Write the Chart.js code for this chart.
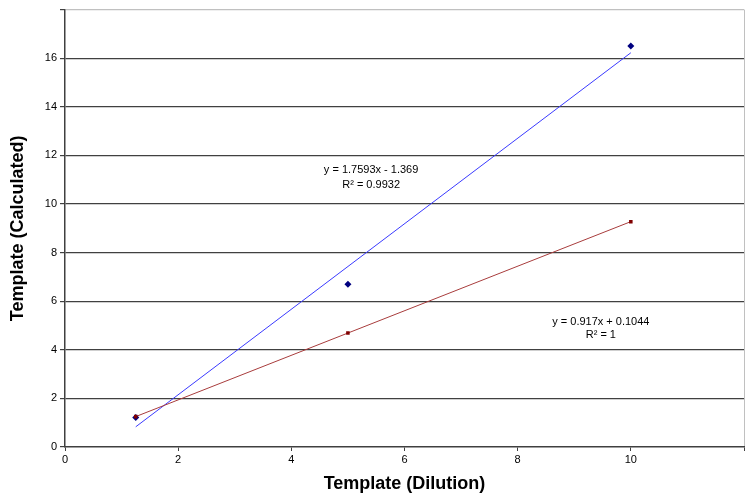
<!DOCTYPE html>
<html>
<head>
<meta charset="utf-8">
<script src="https://cdn.jsdelivr.net/npm/chart.js@4/dist/chart.umd.min.js"></script>
<style>
  html, body { margin: 0; padding: 0; background: #fff; }
  #wrap { width: 750px; height: 501px; position: relative; }
</style>
</head>
<body>
<div id="wrap"><canvas id="chart"></canvas></div>
<script>
// ── data ──────────────────────────────────────────────
const dilution = [1.25, 5, 10];
const calcBlue = [1.21, 6.7, 16.5];
const calcRed = [1.25, 4.69, 9.27];

// trendline coefficients as printed on the chart: [slope, intercept]
const fitBlue = [1.7593, -1.369];
const fitRed = [0.917, 0.1044];
const labelBlue = ["y = 1.7593x - 1.369", "R\u00B2 = 0.9932"];
const labelRed = ["y = 0.917x + 0.1044", "R\u00B2 = 1"];

const xTicks = [0, 2, 4, 6, 8, 10, 12];
const yTicks = [0, 2, 4, 6, 8, 10, 12, 14, 16, 18];

const points = (xs, ys) => xs.map((x, i) => ({ x, y: ys[i] }));
const trend = (xs, fit) => [xs[0], xs[xs.length - 1]].map(x => ({ x, y: fit[0] * x + fit[1] }));

// ── equation labels, placed in data coordinates ───────
const eqLabels = {
  id: "eqLabels",
  afterDatasetsDraw(chart) {
    const { ctx, scales: { x, y } } = chart;
    const items = [
      { text: labelBlue, at: [5.41, 11.42], dy: 15 },
      { text: labelRed, at: [9.47, 5.15], dy: 13 },
    ];
    ctx.save();
    ctx.font = "11px 'Liberation Sans', Arial, sans-serif";
    ctx.fillStyle = "#000";
    ctx.textAlign = "center";
    ctx.textBaseline = "middle";
    for (const it of items) {
      const px = x.getPixelForValue(it.at[0]);
      const py = y.getPixelForValue(it.at[1]);
      it.text.forEach((t, i) => ctx.fillText(t, px, py + i * it.dy));
    }
    ctx.restore();
  },
};

const dark = "#404040";
const light = "#c0c0c0";
const tickFont = { family: "'Liberation Sans', Arial, sans-serif", size: 11 };
const titleFont = { family: "'Liberation Sans', Arial, sans-serif", size: 18, weight: "bold" };

new Chart(document.getElementById("chart"), {
  type: "scatter",
  data: {
    datasets: [
      {
        label: "Calculated A",
        data: points(dilution, calcBlue),
        pointStyle: "rectRot",
        pointRadius: 3.5,
        backgroundColor: "#000080",
        borderColor: "#000080",
        borderWidth: 0,
        order: 2,
      },
      {
        label: "Calculated B",
        data: points(dilution, calcRed),
        pointStyle: "rect",
        pointRadius: 2.5,
        backgroundColor: "#800000",
        borderColor: "#800000",
        borderWidth: 0,
        order: 1,
      },
      {
        label: "Linear A",
        data: trend(dilution, fitBlue),
        showLine: true,
        pointRadius: 0,
        borderColor: "#3a3aff",
        borderWidth: 1,
        order: 4,
      },
      {
        label: "Linear B",
        data: trend(dilution, fitRed),
        showLine: true,
        pointRadius: 0,
        borderColor: "#a83c3c",
        borderWidth: 1,
        order: 3,
      },
    ],
  },
  options: {
    responsive: true,
    maintainAspectRatio: false,
    animation: false,
    layout: { padding: { top: 7, right: 6, left: 0, bottom: 0 } },
    plugins: {
      legend: { display: false },
      tooltip: { enabled: false },
    },
    scales: {
      x: {
        type: "linear",
        min: 0,
        max: 12,
        afterBuildTicks: s => { s.ticks = xTicks.map(v => ({ value: v })); },
        afterFit: s => { s.height = 54; },
        ticks: {
          color: "#000",
          font: tickFont,
          padding: 2,
          maxRotation: 0,
          callback: v => (v === 12 ? "" : v),
        },
        grid: {
          color: c => (c.tick && c.tick.value === 12 ? light : "transparent"),
          tickColor: dark,
          tickLength: 4,
        },
        border: { color: dark, width: 1.5 },
        title: {
          display: true,
          text: "Template (Dilution)",
          color: "#000",
          font: titleFont,
          padding: { top: 0, bottom: 6 },
        },
      },
      y: {
        type: "linear",
        min: 0,
        max: 18,
        afterBuildTicks: s => { s.ticks = yTicks.map(v => ({ value: v })); },
        afterFit: s => { s.width = 65; },
        ticks: {
          color: "#000",
          font: tickFont,
          padding: 3,
          callback: v => (v === 18 ? "" : v),
        },
        grid: {
          color: c => (c.tick && c.tick.value === 18 ? light : c.tick && c.tick.value === 0 ? "transparent" : dark),
          lineWidth: 1.2,
          tickColor: dark,
          tickLength: 5,
        },
        border: { color: dark, width: 1.5 },
        title: {
          display: true,
          text: "Template (Calculated)",
          color: "#000",
          font: titleFont,
          padding: { top: 7, bottom: 0 },
        },
      },
    },
  },
  plugins: [eqLabels],
});
</script>
</body>
</html>
